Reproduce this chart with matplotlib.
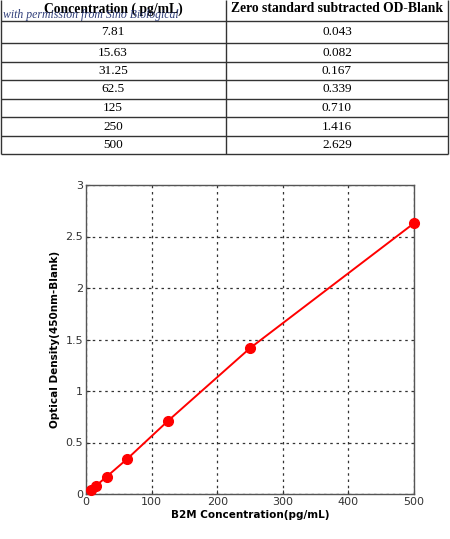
import matplotlib.pyplot as plt
from matplotlib.ticker import FuncFormatter

# standard curve data
conc_labels = ['7.81', '15.63', '31.25', '62.5', '125', '250', '500']
od_labels = ['0.043', '0.082', '0.167', '0.339', '0.710', '1.416', '2.629']
concentration = [7.81, 15.63, 31.25, 62.5, 125, 250, 500]
od_blank = [0.043, 0.082, 0.167, 0.339, 0.710, 1.416, 2.629]

headers = ['Concentration ( pg/mL)', 'Zero standard subtracted OD-Blank']
x_ticks = [0, 100, 200, 300, 400, 500]
y_ticks = [0, 0.5, 1, 1.5, 2, 2.5, 3]

W, H = 450, 539
fig = plt.figure(figsize=(W / 100, H / 100), dpi=100)

# table drawn in pixel coordinates on an overlay axes
tab = fig.add_axes([0, 0, 1, 1])
tab.set_xlim(0, W)
tab.set_ylim(H, 0)
tab.axis('off')

row_lines = [21, 43, 62, 80, 99, 117, 136, 154]
col_lines = [0.5, 226, 448]
for y in row_lines:
    tab.plot([0.5, 448], [y, y], color='#333333', lw=1.0, solid_capstyle='butt')
for x in col_lines:
    tab.plot([x, x], [0, 154], color='#333333', lw=1.0, solid_capstyle='butt')

serif = 'Liberation Serif'
tab.text(113, 9, headers[0], ha='center', va='center', fontsize=9.8,
         fontweight='bold', family=serif)
tab.text(337, 9, headers[1], ha='center', va='center', fontsize=9.8,
         fontweight='bold', family=serif)
tab.text(3, 15, 'with permission from Sino Biological', ha='left', va='center',
         fontsize=8.5, style='italic', family=serif, color='#1a2a6c', alpha=0.9)

for i, (c, o) in enumerate(zip(conc_labels, od_labels)):
    yc = (row_lines[i] + row_lines[i + 1]) / 2
    tab.text(113, yc, c, ha='center', va='center', fontsize=9.5, family=serif)
    tab.text(337, yc, o, ha='center', va='center', fontsize=9.5, family=serif)

# standard curve plot
ax = fig.add_axes([86 / W, 1 - 494 / H, 328 / W, 309 / H])
ax.plot(concentration, od_blank, color='red', lw=1.4, marker='o',
        markersize=7, markerfacecolor='red', markeredgecolor='red', zorder=3,
        clip_on=False)
ax.set_xlim(0, 500)
ax.set_ylim(0, 3)
ax.set_xticks(x_ticks)
ax.set_yticks(y_ticks)
ax.yaxis.set_major_formatter(FuncFormatter(lambda v, p: f'{v:g}'))
ax.grid(True, linestyle=(0, (2, 3)), color='#333333', lw=0.9)
ax.tick_params(direction='in', length=3, labelsize=8, colors='#333333', pad=2)
for sp in ax.spines.values():
    sp.set_color('#555555')
    sp.set_linewidth(1)
ax.set_xlabel('B2M Concentration(pg/mL)', fontsize=7.5, fontweight='bold', labelpad=2)
ax.set_ylabel('Optical Density(450nm-Blank)', fontsize=7.5, fontweight='bold', labelpad=4)

fig.savefig('out.png', dpi=100)
